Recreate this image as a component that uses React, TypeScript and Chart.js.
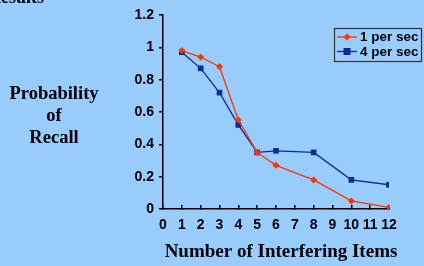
import React, { useEffect, useRef } from 'react';
import { Chart, registerables } from 'chart.js';

Chart.register(...registerables);

const xValues = [1, 2, 3, 4, 5, 6, 8, 10, 12];
const onePerSec = [0.98, 0.94, 0.88, 0.55, 0.35, 0.27, 0.18, 0.05, 0.01];
const fourPerSec = [0.97, 0.87, 0.72, 0.52, 0.35, 0.36, 0.35, 0.18, 0.15];
const seriesNames = ['1 per sec', '4 per sec'];
const seriesColors = ['#FF3300', '#0A2A9E'];
const yTitleLines = ['Probability', 'of', 'Recall'];
const xTitle = 'Number of Interfering Items';
const pageTitle = 'Results';

const BG = '#99CCFF';
const SERIF = '"Liberation Serif", "Times New Roman", serif';
const SANS = '"Liberation Sans", Arial, sans-serif';

const textPlugin = {
  id: 'texts',
  beforeDraw(chart: any) {
    const ctx = chart.ctx;
    ctx.save();
    ctx.fillStyle = BG;
    ctx.fillRect(0, 0, chart.width, chart.height);
    ctx.restore();
  },
  afterDraw(chart: any) {
    const ctx = chart.ctx;
    ctx.save();
    ctx.fillStyle = '#000';
    ctx.font = `bold 18px ${SERIF}`;
    ctx.textAlign = 'right';
    ctx.textBaseline = 'alphabetic';
    ctx.fillText(pageTitle, 44, 3);

    ctx.font = `bold 18.5px ${SERIF}`;
    ctx.textAlign = 'center';
    const ys = [99, 121, 143];
    yTitleLines.forEach((t, i) => ctx.fillText(t, 54, ys[i]));
    ctx.font = `bold 19px ${SERIF}`;
    ctx.fillText(xTitle, 281, 257);

    // legend
    const lx = 334.5, ly = 28.5, lw = 87, lh = 33;
    ctx.strokeStyle = '#333';
    ctx.lineWidth = 1.2;
    ctx.strokeRect(lx, ly, lw, lh);
    ctx.font = `bold 13.5px ${SANS}`;
    ctx.textAlign = 'left';
    ctx.textBaseline = 'middle';
    const rows = [37, 51.5];
    seriesNames.forEach((name, i) => {
      const y = rows[i];
      ctx.strokeStyle = seriesColors[i];
      ctx.fillStyle = seriesColors[i];
      ctx.lineWidth = 1.3;
      ctx.beginPath();
      ctx.moveTo(337, y);
      ctx.lineTo(357, y);
      ctx.stroke();
      ctx.beginPath();
      if (i === 0) {
        ctx.moveTo(347, y - 3.5);
        ctx.lineTo(350.5, y);
        ctx.lineTo(347, y + 3.5);
        ctx.lineTo(343.5, y);
        ctx.closePath();
      } else {
        ctx.rect(343.5, y - 3.5, 7, 7);
      }
      ctx.fill();
      ctx.fillStyle = '#000';
      ctx.fillText(name, 360, y + 0.5);
    });
    ctx.restore();
  },
};

export default function App() {
  const ref = useRef<HTMLCanvasElement | null>(null);

  useEffect(() => {
    if (!ref.current) return;
    const chart = new Chart(ref.current, {
      type: 'line',
      data: {
        datasets: [
          {
            label: seriesNames[0],
            data: xValues.map((x, i) => ({ x, y: onePerSec[i] })),
            borderColor: seriesColors[0],
            backgroundColor: seriesColors[0],
            borderWidth: 1.3,
            pointStyle: 'rectRot',
            pointRadius: 3.5,
            pointBorderWidth: 0,
            pointBackgroundColor: seriesColors[0],
            tension: 0,
          },
          {
            label: seriesNames[1],
            data: xValues.map((x, i) => ({ x, y: fourPerSec[i] })),
            borderColor: seriesColors[1],
            backgroundColor: seriesColors[1],
            borderWidth: 1.3,
            pointStyle: 'rect',
            pointRadius: 4,
            pointBorderWidth: 0,
            pointBackgroundColor: seriesColors[1],
            tension: 0,
          },
        ],
      },
      options: {
        animation: false,
        responsive: false,
        devicePixelRatio: 1,
        layout: { padding: { left: 0, right: 35, top: 15, bottom: 0 } },
        plugins: {
          legend: { display: false },
          tooltip: { enabled: false },
          title: { display: false },
        },
        scales: {
          x: {
            type: 'linear',
            min: 0,
            max: 12,
            afterFit: (s: any) => {
              s.height = 57;
            },
            ticks: {
              stepSize: 1,
              autoSkip: false,
              maxRotation: 0,
              padding: 12,
              color: '#000',
              font: { family: SANS, size: 14, weight: 'bold' },
            },
            grid: {
              drawOnChartArea: false,
              drawTicks: true,
              tickLength: -4,
              color: '#000',
              lineWidth: 1.5,
            },
            border: { display: true, color: '#000', width: 1.5 },
          },
          y: {
            type: 'linear',
            min: 0,
            max: 1.2,
            afterFit: (s: any) => {
              s.width = 163;
            },
            ticks: {
              stepSize: 0.2,
              padding: 5,
              color: '#000',
              font: { family: SANS, size: 14, weight: 'bold' },
              callback: (v: any) => String(Math.round(Number(v) * 10) / 10),
            },
            grid: {
              drawOnChartArea: false,
              drawTicks: true,
              tickLength: 4,
              color: '#000',
              lineWidth: 1.5,
            },
            border: { display: true, color: '#000', width: 1.5 },
          },
        },
      },
      plugins: [textPlugin],
    } as any);
    return () => chart.destroy();
  }, []);

  return (
    <div style={{ position: 'fixed', left: 0, top: 0, width: 424, height: 266, background: BG }}>
      <canvas ref={ref} width={424} height={266} style={{ width: 424, height: 266, display: 'block' }} />
    </div>
  );
}
